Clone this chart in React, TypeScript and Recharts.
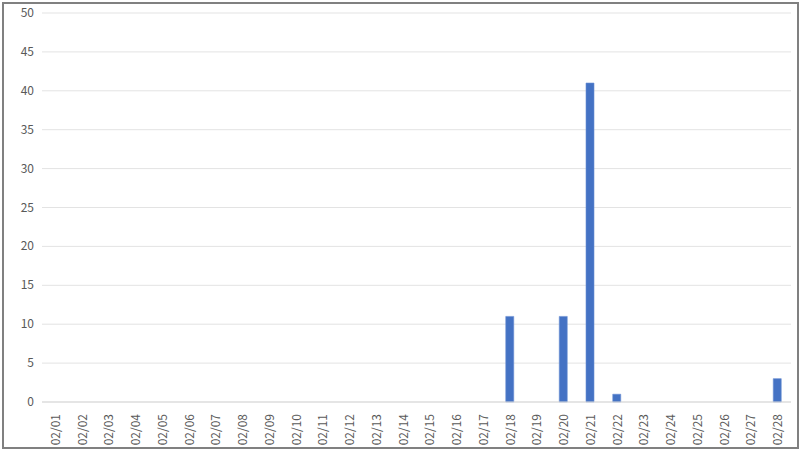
import { BarChart, Bar, XAxis, YAxis, CartesianGrid } from 'recharts';

const days = [
  '02/01', '02/02', '02/03', '02/04', '02/05', '02/06', '02/07',
  '02/08', '02/09', '02/10', '02/11', '02/12', '02/13', '02/14',
  '02/15', '02/16', '02/17', '02/18', '02/19', '02/20', '02/21',
  '02/22', '02/23', '02/24', '02/25', '02/26', '02/27', '02/28',
];
const counts = [
  0, 0, 0, 0, 0, 0, 0,
  0, 0, 0, 0, 0, 0, 0,
  0, 0, 0, 11, 0, 11, 41,
  1, 0, 0, 0, 0, 0, 3,
];
const yTicks = [0, 5, 10, 15, 20, 25, 30, 35, 40, 45, 50];

const chartData = days.map((d, i) => ({ day: d, count: counts[i] }));

const FONT = '"Noto Sans CJK JP", "Noto Sans", sans-serif';

function DayTick({ x, y, payload }: { x?: number; y?: number; payload?: { value: string } }) {
  return (
    <text
      x={0}
      y={0}
      transform={`translate(${(x ?? 0) + 4.5},${(y ?? 0) + 4}) rotate(-90)`}
      textAnchor="end"
      fill="#595959"
      fontSize={12}
      fontFamily={FONT}
    >
      {payload?.value}
    </text>
  );
}

// labels sit right-aligned ~8px left of the plot edge
function CountTick({ y, payload }: { y?: number; payload?: { value: number } }) {
  return (
    <text
      x={34}
      y={(y ?? 0) + 4}
      textAnchor="end"
      fill="#595959"
      fontSize={12}
      fontFamily={FONT}
    >
      {payload?.value}
    </text>
  );
}

export default function App() {
  return (
    <div style={{ position: 'fixed', left: 0, top: 0, width: 800, height: 451, background: '#fff' }}>
      <div
        style={{
          position: 'absolute',
          left: 2,
          top: 2,
          width: 793,
          height: 443,
          border: '2px solid #808080',
          pointerEvents: 'none',
        }}
      />
      <BarChart
        width={800}
        height={451}
        data={chartData}
        margin={{ top: 13, right: 9, bottom: 0, left: 0 }}
        barCategoryGap="0%"
      >
        <CartesianGrid vertical={false} stroke="#e3e3e3" />
        <XAxis
          dataKey="day"
          height={49}
          interval={0}
          tickLine={false}
          axisLine={{ stroke: '#d9d9d9' }}
          tick={<DayTick />}
        />
        <YAxis
          width={42}
          domain={[0, 50]}
          ticks={yTicks}
          interval={0}
          tickLine={false}
          axisLine={false}
          tick={<CountTick />}
        />
        <Bar
          dataKey="count"
          fill="#4472C4"
          stroke="#6a8fd4"
          strokeWidth={0.6}
          barSize={8}
          isAnimationActive={false}
        />
      </BarChart>
    </div>
  );
}
